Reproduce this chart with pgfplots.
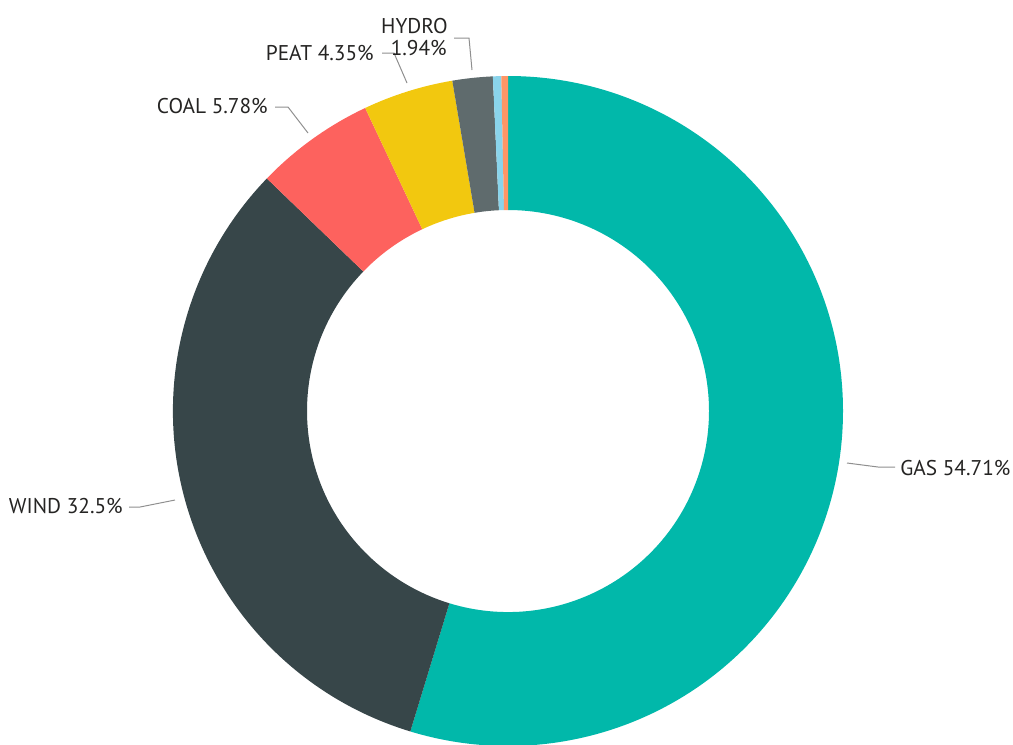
\documentclass[border=0pt]{standalone}
\usepackage{pgfplots}
\usepackage{pgfplotstable}
\pgfplotsset{compat=1.18}
\usepackage{fontspec}
\setmainfont{PT Sans}
\definecolor{gas}{HTML}{01B8AA}
\definecolor{wind}{HTML}{374649}
\definecolor{coal}{HTML}{FD625E}
\definecolor{peat}{HTML}{F2C80F}
\definecolor{hydro}{HTML}{5F6B6D}
\definecolor{lb}{HTML}{8AD4EB}
\definecolor{orng}{HTML}{FE9666}
\definecolor{txt}{HTML}{252423}
\definecolor{lead}{HTML}{8F8F8F}

\pgfplotstableread{
label value color
GAS 54.71 gas
WIND 32.5 wind
COAL 5.78 coal
PEAT 4.35 peat
HYDRO 1.94 hydro
OTHERA 0.40 lb
OTHERB 0.32 orng
}\datatable

\begin{document}
\begin{tikzpicture}
\begin{axis}[
  x=0.75pt, y=0.75pt,
  xmin=0, xmax=1013, ymin=0, ymax=744,
  y dir=reverse,
  hide axis, clip=false,
]
\def\Ro{251.25pt}
\def\Ri{150.75pt}
\def\Rd{100.5pt}
\gdef\curang{90}
\pgfplotsforeachungrouped \i in {0,...,6} {
  \pgfplotstablegetelem{\i}{value}\of\datatable
  \let\v\pgfplotsretval
  \pgfplotstablegetelem{\i}{color}\of\datatable
  \let\c\pgfplotsretval
  \pgfmathsetmacro\angB{\curang-3.6*\v}
  \pgfmathsetmacro\angC{\angB+180}
  \edef\cmd{\noexpand\fill[\c] (axis cs:508,411) ++(\curang:\Ro) arc[start angle=\curang,end angle=\angB,radius=\Ro] -- ++(\angC:\Rd) arc[start angle=\angB,end angle=\curang,radius=\Ri] -- cycle;}
  \cmd
  \xdef\curang{\angB}
}
% leader lines
\draw[lead, line width=0.75pt] (axis cs:847,463) -- (axis cs:878,467) -- (axis cs:895,467);
\draw[lead, line width=0.75pt] (axis cs:129,507) -- (axis cs:140,507) -- (axis cs:175,500);
\draw[lead, line width=0.75pt] (axis cs:275,107) -- (axis cs:288,107) -- (axis cs:308,133);
\draw[lead, line width=0.75pt] (axis cs:382,53) -- (axis cs:394,53) -- (axis cs:407,83);
\draw[lead, line width=0.75pt] (axis cs:454,38) -- (axis cs:469,38) -- (axis cs:472,70);
% labels
\begin{scope}[every node/.style={text=txt, font=\fontsize{16pt}{18pt}\selectfont, inner sep=0pt}]
\node[anchor=base west] at (axis cs:900,475) {GAS 54.71\%};
\node[anchor=base east] at (axis cs:123,513) {WIND 32.5\%};
\node[anchor=base east] at (axis cs:268,113) {COAL 5.78\%};
\node[anchor=base east] at (axis cs:374,60) {PEAT 4.35\%};
\node[anchor=base east] at (axis cs:448,33) {HYDRO};
\node[anchor=base east] at (axis cs:447,55) {1.94\%};
\end{scope}
\end{axis}
\pgfresetboundingbox
\useasboundingbox (current axis.south west) rectangle (current axis.north east);
\end{tikzpicture}
\end{document}
